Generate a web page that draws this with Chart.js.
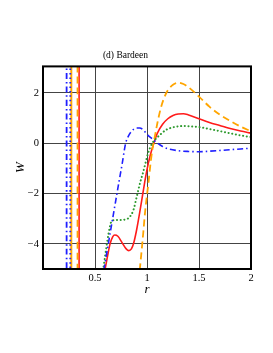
<!DOCTYPE html>
<html><head><meta charset="utf-8">
<script src="https://cdn.jsdelivr.net/npm/chart.js@4.4.0/dist/chart.umd.min.js"></script>
<style>html,body{margin:0;padding:0;background:#fff}</style></head>
<body>
<canvas id="c" width="273" height="353" style="display:block;width:273px;height:353px"></canvas>
<script>
const xTicks = [0.5, 1, 1.5, 2];
const yTicks = [-4, -2, 0, 2];

const redR = [0.595,0.62,0.645,0.67,0.69,0.72,0.76,0.8,0.825,0.85,0.87,0.9,0.93,0.96,0.98,1.0,1.03,1.065,1.1,1.15,1.2,1.25,1.3,1.35,1.4,1.5,1.6,1.7,1.8,1.9,2.0];
const redW = [-5.05,-4.5,-4.0,-3.72,-3.65,-3.7,-3.95,-4.2,-4.27,-4.2,-4.0,-3.45,-2.75,-2.0,-1.5,-1.05,-0.5,0,0.4,0.75,0.97,1.1,1.16,1.17,1.12,0.97,0.82,0.7,0.58,0.48,0.4];

const greenR = [0.578,0.6,0.63,0.66,0.7,0.75,0.8,0.83,0.87,0.9,0.935,0.96,0.985,1.01,1.03,1.05,1.08,1.13,1.18,1.25,1.35,1.45,1.5,1.6,1.7,1.8,1.9,2.0];
const greenW = [-5.05,-4.4,-3.6,-3.1,-3.05,-3.05,-3.02,-2.95,-2.65,-2.15,-1.55,-1.2,-0.8,-0.4,-0.18,0,0.15,0.35,0.52,0.63,0.68,0.66,0.64,0.56,0.48,0.39,0.31,0.24];

const blueR = [0.585,0.63,0.68,0.73,0.76,0.795,0.82,0.865,0.9,0.93,0.97,1.0,1.05,1.1,1.15,1.2,1.3,1.4,1.5,1.6,1.7,1.8,1.9,2.0];
const blueW = [-5.05,-3.95,-2.75,-1.55,-0.85,0,0.27,0.53,0.6,0.6,0.5,0.35,0.17,0.0,-0.13,-0.22,-0.3,-0.33,-0.34,-0.32,-0.29,-0.26,-0.23,-0.2];

const orangeR = [0.93,0.95,0.966,0.98,1.0,1.015,1.03,1.05,1.07,1.1,1.13,1.16,1.2,1.25,1.3,1.35,1.4,1.5,1.6,1.7,1.8,1.9,2.0];
const orangeW = [-5.05,-4.2,-3.47,-2.8,-2.05,-1.55,-0.95,-0.3,0.15,0.8,1.35,1.75,2.1,2.32,2.4,2.35,2.22,1.85,1.45,1.13,0.88,0.66,0.47];

// near-vertical branches close to the origin
const blueAsymR = 0.227;
const greenAsymR = 0.262;
const orangeAsymR = 0.272;
const orangeDashAsymR = 0.332;
const redAsymR = 0.347;
const asymW = [-5.5, 3.5];

const pts = (xs, ys) => xs.map((x, i) => ({x: x, y: ys[i]}));
const vline = (r) => asymW.map(w => ({x: r, y: w}));

const RED = '#ff1a1a', GREEN = '#2e9a2e', BLUE = '#1f1fff', ORANGE = '#ffa500';
const serif = '"Liberation Serif", "DejaVu Serif", serif';

const curve = (data, color, dash, width) => ({
  data, borderColor: color, borderDash: dash, borderWidth: width,
  pointRadius: 0, fill: false, showLine: true, cubicInterpolationMode: 'monotone',
  borderCapStyle: 'butt'
});

const frame = {
  id: 'frame',
  afterDraw(chart) {
    const {ctx, chartArea: a} = chart;
    ctx.save();
    ctx.strokeStyle = '#000';
    ctx.lineWidth = 2;
    ctx.strokeRect(a.left, a.top, a.right - a.left, a.bottom - a.top);
    ctx.restore();
  }
};

new Chart(document.getElementById('c'), {
  type: 'scatter',
  data: {
    datasets: [
      curve(vline(blueAsymR), BLUE, [6,3,1.5,3], 1.8),
      curve(vline(greenAsymR), BLUE, [1.5,3], 1.8),
      curve(vline(orangeAsymR), ORANGE, [], 2),
      curve(vline(orangeDashAsymR), ORANGE, [7,4], 1.8),
      curve(vline(redAsymR), RED, [], 1.6),
      curve(pts(blueR, blueW), BLUE, [6,3,1.5,3], 1.6),
      Object.assign(curve(pts(greenR, greenW), GREEN, [0.1,3.6], 2), {borderCapStyle: 'round'}),
      curve(pts(orangeR, orangeW), ORANGE, [7,4], 1.8),
      curve(pts(redR, redW), RED, [], 1.6)
    ]
  },
  options: {
    responsive: false,
    animation: false,
    devicePixelRatio: 1,
    layout: {padding: {left: 0, right: 22, top: 0, bottom: 56}},
    plugins: {
      legend: {display: false},
      tooltip: {enabled: false},
      title: {display: true, text: '(d) Bardeen', color: '#000',
        font: {family: serif, size: 9.5, weight: 'normal'},
        padding: {top: 50, bottom: 5}}
    },
    scales: {
      x: {
        type: 'linear', min: 0, max: 2,
        afterBuildTicks: s => { s.ticks = xTicks.map(v => ({value: v})); },
        afterFit: s => { s.height = 28; },
        grid: {color: '#444', lineWidth: 1, drawTicks: false},
        border: {display: false},
        ticks: {padding: 3, color: '#000', font: {family: serif, size: 10.5}, maxRotation: 0, autoSkip: false,
          callback: v => String(v)},
        title: {display: true, text: 'r', color: '#000', padding: 0,
          font: {family: serif, size: 13, style: 'italic'}}
      },
      y: {
        type: 'linear', min: -5, max: 3.05,
        afterBuildTicks: s => { s.ticks = yTicks.map(v => ({value: v})); },
        afterFit: s => { s.width = 43; },
        grid: {color: '#444', lineWidth: 1, drawTicks: false},
        border: {display: false},
        ticks: {padding: 4, color: '#000', font: {family: serif, size: 10.5},
          callback: v => v < 0 ? '\u2212' + Math.abs(v) : String(v)},
        title: {display: true, text: 'W', color: '#000', padding: {top: 13, bottom: 0},
          font: {family: serif, size: 13, style: 'italic'}}
      }
    }
  },
  plugins: [frame]
});
</script>
</body></html>
